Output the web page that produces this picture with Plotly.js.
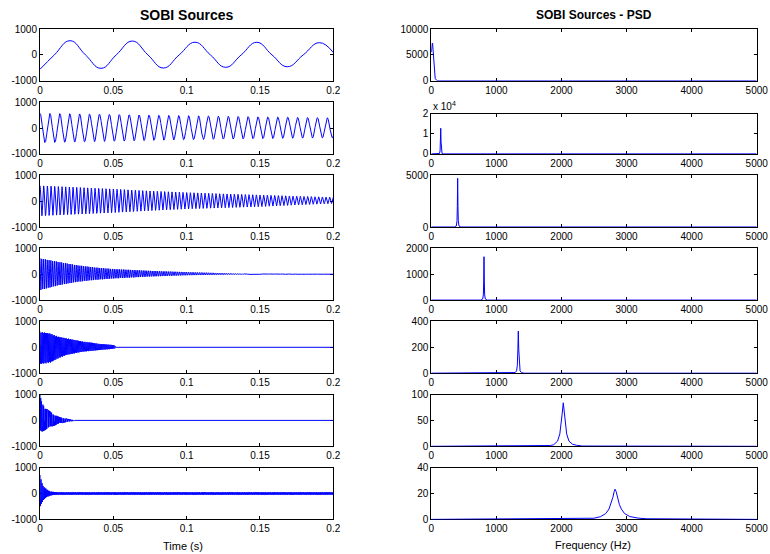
<!DOCTYPE html>
<html>
<head>
<meta charset="utf-8">
<script src="https://cdn.plot.ly/plotly-3.0.1.min.js"></script>
<style>html,body{margin:0;padding:0;background:#fff;}#chart{width:770px;height:554px;}</style>
</head>
<body>
<div id="chart"></div>
<script>
// ---------- DATA ----------
const sampleRate = 10000;               // PSD axis ends at 5000 Hz (Nyquist)
const duration = 0.2;

const timeTickVals = [0, 0.05, 0.1, 0.15, 0.2];
const timeTickText = ['0', '0.05', '0.1', '0.15', '0.2'];
const ampTickVals = [-1000, 0, 1000];
const ampTickText = ['-1000', '0', '1000'];
const freqTickVals = [0, 1000, 2000, 3000, 4000, 5000];
const freqTickText = ['0', '1000', '2000', '3000', '4000', '5000'];

// Source 1: slow sine, read point by point (extremes and zero crossings)
const src1T = [0, 0.0098, 0.0205, 0.031, 0.0416, 0.052, 0.063, 0.0736, 0.0841, 0.0949, 0.1057, 0.1162, 0.1266, 0.1372, 0.1478, 0.1582, 0.1686, 0.1795, 0.1905, 0.2];
const src1V = [-556, 0, 548, 0, -518, 0, 535, 0, -506, 0, 490, 0, -479, 0, 486, 0, -456, 0, 473, 90];

// Sources 2..7: oscillation frequency (Hz) and upper / lower envelope knots
const src2Freq = 148;
const src2EnvT = [0, 0.05, 0.1, 0.15, 0.2];
const src2EnvU = [567, 520, 475, 430, 390];
const src2EnvL = [-567, -510, -450, -410, -375];

const src3Freq = 400;
const src3EnvT = [0, 0.025, 0.05, 0.075, 0.1, 0.125, 0.15, 0.175, 0.2];
const src3EnvU = [595, 530, 465, 390, 330, 280, 236, 190, 147];
const src3EnvL = [-575, -510, -448, -371, -305, -260, -216, -150, -95];

const src4Freq = 810;
const src4EnvT = [0, 0.0125, 0.025, 0.0375, 0.05, 0.075, 0.1, 0.125, 0.14, 0.2];
const src4EnvU = [614, 480, 350, 260, 200, 130, 80, 40, 12, 0];
const src4EnvL = [-620, -430, -300, -220, -165, -90, -40, -20, -8, 0];

const src5Freq = 1340;
const src5EnvT = [0, 0.0068, 0.0125, 0.0182, 0.0239, 0.0295, 0.0352, 0.0409, 0.05, 0.0511, 0.052];
const src5EnvU = [605, 540, 412, 347, 283, 219, 180, 129, 90, 60, 0];
const src5EnvL = [-650, -600, -425, -296, -232, -167, -140, -103, -60, -40, 0];

const src6Freq = 2030;
const src6EnvT = [0, 0.0011, 0.0034, 0.0057, 0.0091, 0.0136, 0.0182, 0.0227, 0.0235];
const src6EnvU = [980, 723, 530, 400, 246, 118, 67, 15, 0];
const src6EnvL = [-500, -475, -370, -305, -216, -113, -62, -23, 0];

const src7Freq = 2825;
const src7EnvT = [0, 0.0011, 0.0023, 0.0045, 0.0068, 0.0091, 0.012, 0.2];
const src7EnvU = [714, 457, 290, 161, 84, 58, 45, 45];
const src7EnvL = [-573, -380, -251, -148, -84, -58, -45, -45];

// PSD curves (frequency Hz, power)
const psd1F = [0, 5, 10, 15, 20, 25, 30, 40, 50, 60, 80, 100, 5000];
const psd1P = [5500, 6600, 7100, 7300, 7200, 6200, 4500, 2300, 1000, 450, 120, 0, 0];
const psd2F = [0, 100, 125, 135, 140, 145, 150, 155, 165, 190, 5000];
const psd2P = [0, 0, 200, 1500, 6000, 12700, 6000, 1500, 200, 0, 0];
const psd3F = [0, 355, 385, 395, 400, 405, 410, 415, 425, 455, 5000];
const psd3P = [0, 0, 100, 600, 2000, 4700, 2000, 600, 100, 0, 0];
const psd4F = [0, 760, 790, 800, 805, 810, 815, 820, 830, 860, 5000];
const psd4P = [0, 0, 40, 200, 700, 1676, 700, 200, 40, 0, 0];
const psd5F = [0, 1250, 1290, 1310, 1322, 1330, 1337, 1344, 1352, 1364, 1385, 1425, 5000];
const psd5P = [0, 0, 5, 18, 60, 180, 325, 180, 60, 18, 5, 0, 0];
const psd6F = [0, 1750, 1830, 1880, 1940, 1975, 1995, 2010, 2028, 2045, 2060, 2080, 2115, 2170, 2230, 2320, 5000];
const psd6P = [0, 0.5, 1.5, 3, 10, 24, 42, 62, 84, 60, 40, 24, 10, 4, 2, 0.5, 0];
const psd7F = [0, 2400, 2500, 2600, 2680, 2730, 2760, 2790, 2810, 2823, 2840, 2860, 2890, 2920, 2970, 3050, 3180, 3300, 5000];
const psd7P = [0, 0.4, 0.9, 2.1, 4.5, 8, 12, 17, 21.5, 23.3, 21.5, 17, 11.5, 8, 4.5, 2.2, 1, 0.5, 0];

// PSD y-axis ranges and ticks
const psdMax = [10000, 20000, 5000, 2000, 400, 100, 40];
const psd1Ticks = [0, 5000, 10000];
const psd2Ticks = [0, 10000, 20000];
const psd2TickText = ['0', '1', '2'];
const psd3Ticks = [0, 5000];
const psd4Ticks = [0, 1000, 2000];
const psd5Ticks = [0, 200, 400];
const psd6Ticks = [0, 50, 100];
const psd7Ticks = [0, 20, 40];

// ---------- BUILD ----------
function envAt(t, T, V) {
  if (t <= T[0]) return V[0];
  for (let i = 1; i < T.length; i++) {
    if (t <= T[i]) {
      const f = (t - T[i - 1]) / (T[i] - T[i - 1]);
      return V[i - 1] + f * (V[i] - V[i - 1]);
    }
  }
  return V[V.length - 1];
}
function synth(freq, T, U, L) {
  const xs = [], ys = [];
  const n = Math.round(duration * sampleRate);
  for (let k = 0; k <= n; k++) {
    const t = k / sampleRate;
    const u = envAt(t, T, U), l = envAt(t, T, L);
    xs.push(t);
    ys.push((u + l) / 2 + (u - l) / 2 * Math.cos(2 * Math.PI * freq * t));
  }
  return {x: xs, y: ys};
}

const timeSeries = [
  {x: src1T, y: src1V, spline: true},
  synth(src2Freq, src2EnvT, src2EnvU, src2EnvL),
  synth(src3Freq, src3EnvT, src3EnvU, src3EnvL),
  synth(src4Freq, src4EnvT, src4EnvU, src4EnvL),
  synth(src5Freq, src5EnvT, src5EnvU, src5EnvL),
  synth(src6Freq, src6EnvT, src6EnvU, src6EnvL),
  synth(src7Freq, src7EnvT, src7EnvU, src7EnvL)
];
const psdSeries = [[psd1F, psd1P], [psd2F, psd2P], [psd3F, psd3P], [psd4F, psd4P], [psd5F, psd5P], [psd6F, psd6P], [psd7F, psd7P]];
const psdTicks = [psd1Ticks, psd2Ticks, psd3Ticks, psd4Ticks, psd5Ticks, psd6Ticks, psd7Ticks];

// ---------- LAYOUT GEOMETRY (pixels) ----------
const W = 770, H = 554;
const rowTop = [29, 102.1, 175.2, 248.3, 321.4, 394.5, 467.6];
const rowH = 51.8;
const rightRow2Top = 113.5;
const leftX = [40, 333.3];
const rightX = [431.3, 756.7];
const FONT = 'Liberation Sans, Arial, Helvetica, sans-serif';
const BLUE = '#0000ff';

const traces = [];
const layout = {
  width: W, height: H,
  margin: {l: 0, r: 0, t: 0, b: 0},
  paper_bgcolor: '#ffffff', plot_bgcolor: '#ffffff',
  showlegend: false,
  font: {family: FONT, size: 10, color: '#000'},
  annotations: []
};

function axisBase() {
  return {
    showline: true, linecolor: '#000', linewidth: 1, mirror: 'ticks',
    ticks: 'inside', ticklen: 3, tickwidth: 1, tickcolor: '#000',
    showgrid: false, zeroline: false, fixedrange: true,
    tickfont: {family: FONT, size: 10, color: '#000'},
    layer: 'below traces'
  };
}

for (let r = 0; r < 7; r++) {
  const li = 2 * r + 1, ri = 2 * r + 2;
  const lx = 'x' + li, ly = 'y' + li, rx = 'x' + ri, ry = 'y' + ri;
  const ts = timeSeries[r];
  traces.push({
    type: 'scatter', mode: 'lines', x: ts.x, y: ts.y, xaxis: lx, yaxis: ly,
    line: ts.spline ? {color: BLUE, width: 1, shape: 'spline', smoothing: 1.3} : {color: BLUE, width: 1},
    hoverinfo: 'skip'
  });
  const top = rowTop[r], bot = rowTop[r] + rowH;
  layout['xaxis' + li] = Object.assign(axisBase(), {
    domain: [leftX[0] / W, leftX[1] / W], anchor: ly, range: [0, 0.2],
    tickmode: 'array', tickvals: timeTickVals, ticktext: timeTickText
  });
  layout['yaxis' + li] = Object.assign(axisBase(), {
    domain: [1 - bot / H, 1 - top / H], anchor: lx, range: [-1000, 1000],
    tickmode: 'array', tickvals: ampTickVals, ticktext: ampTickText
  });
  const ps = psdSeries[r];
  traces.push({
    type: 'scatter', mode: 'lines', x: ps[0], y: ps[1], xaxis: rx, yaxis: ry,
    line: {color: BLUE, width: 1}, hoverinfo: 'skip'
  });
  const rtop = r === 1 ? rightRow2Top : top;
  layout['xaxis' + ri] = Object.assign(axisBase(), {
    domain: [rightX[0] / W, rightX[1] / W], anchor: ry, range: [0, 5000],
    tickmode: 'array', tickvals: freqTickVals, ticktext: freqTickText
  });
  layout['yaxis' + ri] = Object.assign(axisBase(), {
    domain: [1 - bot / H, 1 - rtop / H], anchor: rx, range: [0, psdMax[r]],
    tickmode: 'array', tickvals: psdTicks[r],
    ticktext: r === 1 ? psd2TickText : psdTicks[r].map(String)
  });
}

function ann(text, px, py, size, xanchor) {
  return {
    text: text, xref: 'paper', yref: 'paper', x: px / W, y: 1 - py / H,
    xanchor: xanchor || 'center', yanchor: 'middle', showarrow: false,
    font: {family: FONT, size: size, color: '#000'}
  };
}
layout.annotations.push(ann('<b>SOBI Sources</b>', 186.7, 15.5, 14));
layout.annotations.push(ann('<b>SOBI Sources - PSD</b>', 594, 15.5, 12));
layout.annotations.push(ann('Time (s)', 182.5, 545.5, 11));
layout.annotations.push(ann('Frequency (Hz)', 592.5, 545, 11));
layout.annotations.push(ann('x 10<sup>4</sup>', 430.5, 106, 10, 'left'));

Plotly.newPlot('chart', traces, layout, {staticPlot: true, displayModeBar: false});
</script>
</body>
</html>
